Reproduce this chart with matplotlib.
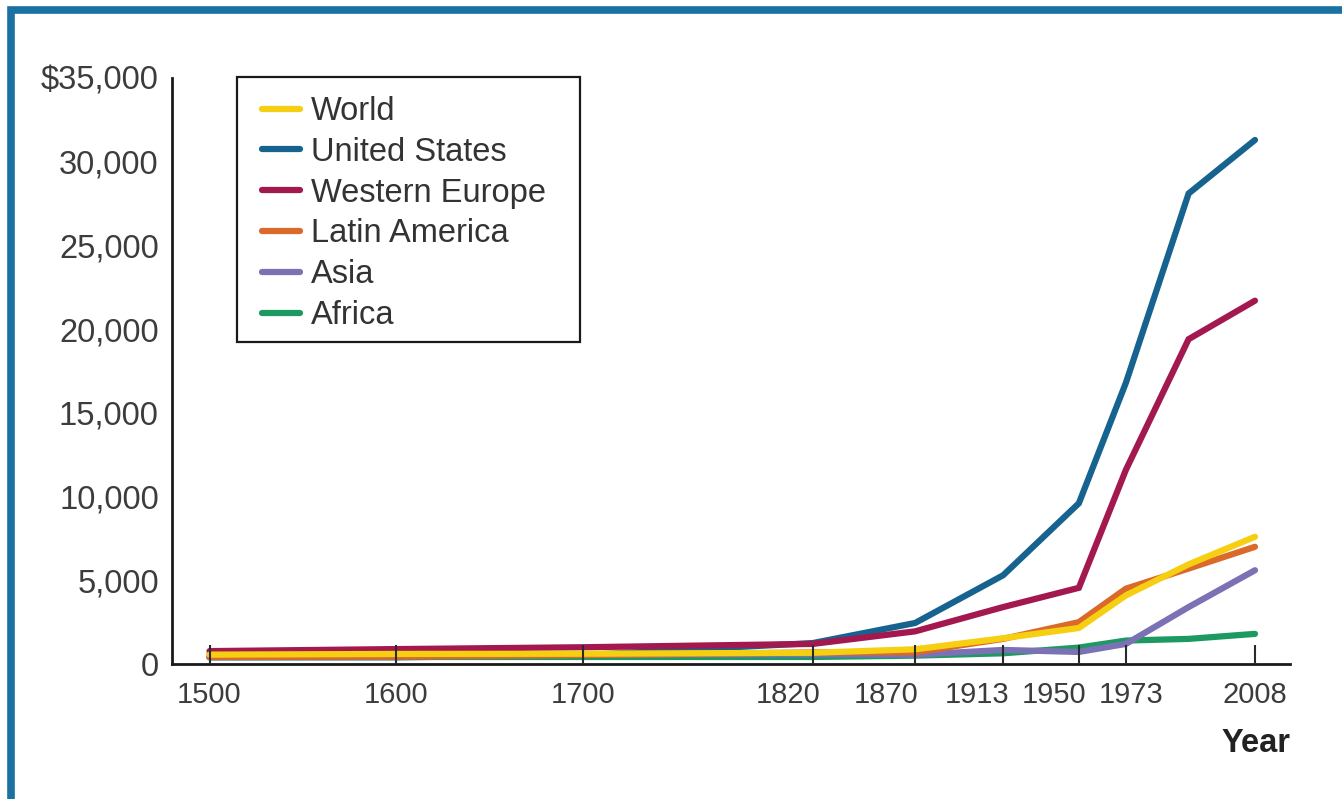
import numpy as np
import matplotlib
matplotlib.use("Agg")
import matplotlib.pyplot as plt
import matplotlib.transforms as mtransforms
from matplotlib.patches import Rectangle

# GDP per capita by region, 1500-2008
years = [1500, 1600, 1700, 1820, 1870, 1913, 1950, 1973, 1990, 2008]
tick_years = [1500, 1600, 1700, 1820, 1870, 1913, 1950, 1973, 2008]

world = [560, 600, 615, 670, 880, 1540, 2150, 4100, 5950, 7600]
united_states = [400, 400, 530, 1250, 2450, 5300, 9600, 16800, 28100, 31300]
western_europe = [770, 890, 1000, 1200, 1950, 3400, 4550, 11600, 19400, 21700]
latin_america = [420, 440, 530, 690, 700, 1500, 2500, 4500, 5700, 7000]
asia = [570, 580, 570, 580, 550, 840, 720, 1200, 3400, 5600]
africa = [410, 420, 420, 420, 500, 640, 980, 1400, 1500, 1800]

y_ticks = [0, 5000, 10000, 15000, 20000, 25000, 30000, 35000]
y_labels = ["0", "5,000", "10,000", "15,000", "20,000", "25,000", "30,000", "$35,000"]

# uneven time axis: the last stretch (after 1973) is drawn wider
knot_years = np.array([1000, 1500, 1700, 1820, 1973, 2008, 2500])
knot_units = np.array([-932.5, 0, 373, 603, 916, 1045, 2858.5])


def fwd(x):
    return np.interp(x, knot_years, knot_units)


def inv(u):
    return np.interp(u, knot_units, knot_years)


W, H = 1342, 799
plt.rcParams["font.family"] = ["Liberation Sans", "DejaVu Sans"]

fig = plt.figure(figsize=(W / 100, H / 100), dpi=100)
ax = fig.add_axes([172 / W, 1 - 664 / H, 1118 / W, 586 / H])
ax.set_xscale("function", functions=(fwd, inv))

lw = 4.5
series = [
    ("United States", united_states, "#17638f"),
    ("Africa", africa, "#1c9a62"),
    ("Asia", asia, "#7a72b4"),
    ("Latin America", latin_america, "#db6a2a"),
    ("Western Europe", western_europe, "#a3184f"),
    ("World", world, "#f6cf12"),
]
handles = {}
for name, vals, col in series:
    (h,) = ax.plot(years, vals, color=col, lw=lw, solid_capstyle="round",
                   solid_joinstyle="miter", label=name)
    handles[name] = h

ax.set_xlim(inv(-37.5), inv(1080))
ax.set_ylim(0, 35000)

ax.spines["top"].set_visible(False)
ax.spines["right"].set_visible(False)
for s in ("left", "bottom"):
    ax.spines[s].set_linewidth(2.0)
    ax.spines[s].set_color("#1a1a1a")

ax.set_xticks(tick_years)
ax.set_xticklabels([str(y) for y in tick_years])
ax.set_yticks(y_ticks)
ax.set_yticklabels(y_labels)
ax.tick_params(axis="x", direction="in", length=14, width=1.5, color="#2a2a2a",
               pad=12, labelsize=21, labelcolor="#3c3c3c")
ax.tick_params(axis="y", length=0, pad=9.5, labelsize=23.5, labelcolor="#3c3c3c")
ax.set_axisbelow(False)

# crowded year labels are nudged sideways (pixels)
label_shift = {1820: -25, 1870: -29, 1913: -26, 1950: -25, 1973: 5}
for yr, lab in zip(tick_years, ax.get_xticklabels()):
    dx = label_shift.get(yr, 0)
    if dx:
        lab.set_transform(lab.get_transform()
                          + mtransforms.ScaledTranslation(dx / 100, 0, fig.dpi_scale_trans))

# legend: entries placed without frame, box drawn separately
order = ["World", "United States", "Western Europe", "Latin America", "Asia", "Africa"]
leg = fig.legend([handles[n] for n in order], order, loc="upper left",
                 bbox_to_anchor=(262 / W, 1 - 96 / H), fontsize=23.5, frameon=False,
                 handlelength=1.17, handletextpad=0.34, labelspacing=0.3,
                 borderpad=0, borderaxespad=0)
for t in leg.get_texts():
    t.set_color("#333333")
fig.patches.append(Rectangle((237 / W, 1 - 342 / H), 343 / W, 265 / H,
                             transform=fig.transFigure, fill=False,
                             edgecolor="#1a1a1a", linewidth=1.6, zorder=5))

fig.text(1290 / W, 1 - 744 / H, "Year", ha="right", va="center",
         fontsize=23.5, fontweight="bold", color="#222222")

# blue frame around the panel (runs off the right and bottom edges)
fig.patches.append(Rectangle((11 / W, -0.2), 1.3, 1.2 - 10 / H,
                             transform=fig.transFigure, fill=False,
                             edgecolor="#1b72a2", linewidth=5.5))

fig.savefig("out.png", dpi=100)
